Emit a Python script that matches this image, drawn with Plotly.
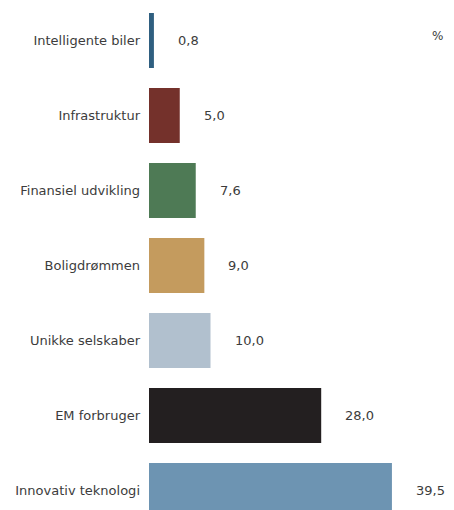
import plotly.graph_objects as go

categories = ["Intelligente biler", "Infrastruktur", "Finansiel udvikling", "Boligdrømmen",
              "Unikke selskaber", "EM forbruger", "Innovativ teknologi"]
values = [0.8, 5.0, 7.6, 9.0, 10.0, 28.0, 39.5]
value_labels = ["0,8", "5,0", "7,6", "9,0", "10,0", "28,0", "39,5"]
colors = ["#2F5F80", "#74312B", "#4E7A55", "#C49B5E", "#B1C0CE", "#231F20", "#6D94B2"]
unit_label = "%"

W, H = 454, 510
L = 149
px_per_unit = 6.15
row_px = 75
first_center_px = 40.5

ypos = list(range(len(categories)))
y_top = -first_center_px / row_px
y_bot = y_top + H / row_px
x_max = (W - L) / px_per_unit

fig = go.Figure(go.Bar(
    x=values, y=ypos, orientation="h",
    marker=dict(color=colors, line=dict(width=0)),
    width=55 / row_px,
    hoverinfo="skip",
))

font_fam = "'DejaVu Sans', sans-serif"
txt_color = "#3c3c3c"
for v, lab, y in zip(values, value_labels, ypos):
    fig.add_annotation(x=v, y=y, text=lab, showarrow=False, xanchor="left",
                       xshift=22, font=dict(size=13, color=txt_color, family=font_fam))

fig.add_annotation(xref="paper", yref="paper", x=(437 - L) / (W - L), y=1 - 36 / H,
                   text=unit_label, showarrow=False, xanchor="center", yanchor="middle",
                   font=dict(size=12, color=txt_color, family=font_fam))

fig.update_layout(
    width=W, height=H,
    margin=dict(l=L, r=0, t=0, b=0, pad=0),
    plot_bgcolor="white", paper_bgcolor="white",
    showlegend=False,
    xaxis=dict(range=[0, x_max], visible=False, fixedrange=True),
    yaxis=dict(range=[y_bot, y_top], tickvals=ypos, ticktext=categories,
               showgrid=False, zeroline=False, showline=False, ticks="",
               ticklabelstandoff=8,
               tickfont=dict(size=13, color=txt_color, family=font_fam)),
    font=dict(family=font_fam),
)

fig.write_html("out.html", config={"displayModeBar": False},
               post_script="document.body.style.margin='0';document.body.style.padding='0';")
